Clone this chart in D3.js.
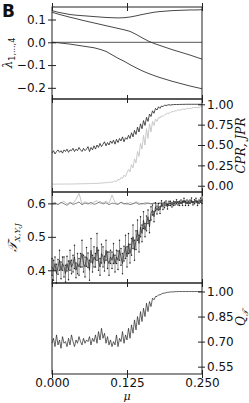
<!DOCTYPE html>
<html>
<head>
<meta charset="utf-8">
<script src="https://cdn.jsdelivr.net/npm/d3@7"></script>
<style>
body { margin: 0; background: #fff; }
svg { display: block; }
text { font-family: "DejaVu Sans", sans-serif; fill: #111; }
</style>
</head>
<body>
<div id="chart"></div>
<script>
"use strict";
// ---- data ----
const lamA = [0.139,0.132,0.127,0.122,0.119,0.117,0.115,0.113,0.111,0.109,0.108,0.107,0.108,0.111,0.116,0.122,0.127,0.132,0.135,0.137,0.139,0.140,0.141,0.142,0.142,0.143];
const lamB = [0.132,0.124,0.117,0.110,0.104,0.097,0.091,0.085,0.079,0.073,0.067,0.061,0.055,0.048,0.035,0.020,0.006,-0.005,-0.014,-0.023,-0.032,-0.040,-0.048,-0.056,-0.065,-0.074];
const lamC = [0.000,-0.002,-0.005,-0.008,-0.012,-0.016,-0.020,-0.024,-0.031,-0.040,-0.055,-0.070,-0.083,-0.098,-0.112,-0.125,-0.136,-0.146,-0.155,-0.163,-0.171,-0.178,-0.185,-0.192,-0.198,-0.204];

const cpr = [0.40,0.43,0.39,0.42,0.44,0.41,0.43,0.40,0.44,0.42,0.45,
  0.41,0.44,0.43,0.46,0.42,0.45,0.43,0.47,0.44,0.42,
  0.46,0.43,0.45,0.48,0.42,0.47,0.44,0.49,0.45,0.50,
  0.47,0.52,0.48,0.51,0.54,0.49,0.53,0.50,0.55,0.52,
  0.56,0.51,0.57,0.53,0.58,0.55,0.60,0.54,0.59,0.57,
  0.62,0.58,0.65,0.60,0.68,0.63,0.72,0.66,0.76,0.70,
  0.80,0.74,0.84,0.79,0.88,0.85,0.92,0.89,0.95,0.93,
  0.97,0.95,0.98,0.97,0.99,0.985,0.99,0.995,0.99,0.995,
  0.996,0.997,0.997,0.998,0.998,0.999,0.999,0.999,1.0,1.0,
  1.0,1.0,1.0,1.0,1.0,1.0,1.0,1.0,1.0,1.0];
const jpr = [0.02,0.02,0.018,0.02,0.022,0.02,0.019,0.021,0.02,0.022,0.02,
  0.021,0.02,0.022,0.021,0.023,0.022,0.024,0.022,0.025,0.023,
  0.025,0.024,0.026,0.025,0.027,0.026,0.028,0.027,0.03,0.028,
  0.032,0.03,0.035,0.033,0.038,0.035,0.042,0.038,0.046,0.042,
  0.05,0.06,0.05,0.08,0.07,0.10,0.09,0.13,0.11,0.16,
  0.20,0.17,0.26,0.22,0.33,0.28,0.42,0.36,0.52,0.45,
  0.62,0.50,0.70,0.58,0.76,0.66,0.79,0.74,0.82,0.79,
  0.84,0.83,0.86,0.85,0.87,0.88,0.89,0.89,0.90,0.91,
  0.91,0.92,0.92,0.93,0.93,0.93,0.94,0.94,0.94,0.95,
  0.95,0.95,0.95,0.96,0.96,0.96,0.96,0.96,0.97,0.97];

const tX = [0.600,0.604,0.597,0.602,0.606,0.598,0.603,0.600,0.612,0.630,0.598,0.605,0.601,0.597,0.604,0.608,0.599,0.602,0.606,0.600,0.625,0.603,0.598,0.604,0.600,0.596,0.603,0.599,0.605,0.601,0.597,0.603,0.600,0.598,0.602,0.600,0.603,0.601,0.604,0.602,0.600,0.603,0.605,0.601,0.604,0.602,0.600,0.603,0.601,0.604,0.602];
const tY = [0.598,0.601,0.596,0.603,0.599,0.594,0.602,0.597,0.600,0.604,0.596,0.601,0.598,0.603,0.597,0.600,0.605,0.598,0.602,0.596,0.601,0.599,0.597,0.603,0.598,0.601,0.596,0.599,0.602,0.597,0.600,0.598,0.601,0.599,0.600,0.598,0.600,0.601,0.599,0.600,0.602,0.601,0.603,0.602,0.604,0.601,0.603,0.605,0.603,0.604,0.602];
const tJ = [0.41,0.40,0.42,0.39,0.41,0.43,0.40,0.42,0.41,0.39,0.42,
  0.40,0.43,0.41,0.42,0.44,0.40,0.42,0.41,0.43,0.45,
  0.42,0.41,0.44,0.43,0.40,0.46,0.42,0.44,0.43,0.47,
  0.43,0.41,0.45,0.44,0.42,0.46,0.43,0.42,0.44,0.43,
  0.45,0.42,0.44,0.43,0.46,0.44,0.42,0.45,0.47,0.44,
  0.48,0.45,0.47,0.50,0.46,0.49,0.52,0.48,0.53,0.51,
  0.55,0.52,0.54,0.56,0.53,0.57,0.58,0.56,0.59,0.58,
  0.59,0.58,0.60,0.59,0.595,0.60,0.59,0.60,0.60,0.595,
  0.60,0.60,0.605,0.60,0.60,0.605,0.60,0.61,0.60,0.605,
  0.60,0.605,0.61,0.60,0.605,0.61,0.60,0.605,0.61,0.605];
const tJErr = [0.025,0.03,0.02,0.028,0.022,0.03,0.025,0.02,0.03,0.025,0.022,
  0.028,0.03,0.02,0.025,0.035,0.022,0.03,0.025,0.02,0.04,
  0.025,0.03,0.028,0.022,0.03,0.035,0.025,0.03,0.02,0.04,
  0.03,0.025,0.028,0.03,0.022,0.03,0.025,0.035,0.02,0.025,
  0.03,0.025,0.02,0.028,0.03,0.025,0.03,0.022,0.035,0.03,
  0.03,0.028,0.025,0.035,0.03,0.028,0.03,0.025,0.03,0.025,
  0.025,0.02,0.022,0.02,0.018,0.02,0.015,0.015,0.012,0.012,
  0.01,0.01,0.008,0.008,0.008,0.007,0.007,0.006,0.006,0.006,
  0.006,0.005,0.006,0.005,0.006,0.005,0.006,0.005,0.006,0.005,
  0.006,0.005,0.006,0.005,0.006,0.005,0.006,0.005,0.006,0.005];

const qT = [0.69,0.72,0.67,0.74,0.68,0.71,0.66,0.73,0.69,0.70,0.67,
  0.72,0.68,0.74,0.70,0.67,0.71,0.69,0.73,0.70,0.68,
  0.72,0.69,0.71,0.70,0.73,0.68,0.72,0.70,0.74,0.69,
  0.76,0.71,0.78,0.72,0.75,0.69,0.73,0.68,0.71,0.67,
  0.70,0.68,0.74,0.67,0.72,0.70,0.76,0.69,0.74,0.71,
  0.78,0.72,0.80,0.75,0.83,0.77,0.85,0.80,0.88,0.82,
  0.90,0.85,0.93,0.88,0.94,0.91,0.96,0.95,0.97,0.97,
  0.98,0.98,0.985,0.99,0.99,0.993,0.995,0.996,0.997,0.998,
  0.998,0.999,0.999,1.0,1.0,1.0,1.0,1.0,1.0,1.0,
  1.0,1.0,1.0,1.0,1.0,1.0,1.0,1.0,1.0,1.0];

// tick values / labels
const muTicks = [0, 0.125, 0.25];
const muTickLabels = ["0.000", "0.125", "0.250"];
const lamTicks = [0.1, 0.0, -0.1, -0.2];
const lamTickLabels = ["0.1", "0.0", "\u22120.1", "\u22120.2"];
const prTicks = [1.0, 0.75, 0.5, 0.25, 0.0];
const prTickLabels = ["1.00", "0.75", "0.50", "0.25", "0.00"];
const tTicks = [0.6, 0.5, 0.4];
const tTickLabels = ["0.6", "0.5", "0.4"];
const qTicks = [1.0, 0.85, 0.70, 0.55];
const qTickLabels = ["1.00", "0.85", "0.70", "0.55"];

// mu grids (sweep parameter, evenly sampled)
const muCoarse = lamA.map((d, i) => i * 0.01);
const muMid = tX.map((d, i) => i * 0.005);
const muFine = cpr.map((d, i) => i * 0.0025);

// ---- layout ----
const W = 249, H = 403;
const L = 52, R = 202;
const svg = d3.select("#chart").append("svg").attr("width", W).attr("height", H);
const x = d3.scaleLinear().domain([0, 0.25]).range([L, R]);

const panels = [
  { top: 7, bottom: 99, domain: [-0.249, 0.155], side: "left", ticks: lamTicks, labels: lamTickLabels },
  { top: 99, bottom: 192, domain: [-0.077, 1.065], side: "right", ticks: prTicks, labels: prTickLabels },
  { top: 192, bottom: 283, domain: [0.362, 0.634], side: "left", ticks: tTicks, labels: tTickLabels },
  { top: 283, bottom: 374, domain: [0.506, 1.051], side: "right", ticks: qTicks, labels: qTickLabels }
];
panels.forEach(p => { p.y = d3.scaleLinear().domain(p.domain).range([p.bottom, p.top]); });

function drawLine(p, xs, ys, color, width) {
  const line = d3.line().x((d, i) => x(xs[i])).y(d => p.y(d));
  svg.append("path").datum(ys)
    .attr("d", line)
    .attr("fill", "none")
    .attr("stroke", color)
    .attr("stroke-width", width)
    .attr("stroke-linejoin", "round");
}

// panel 1: eigenvalues
const p1 = panels[0];
svg.append("line")
  .attr("x1", L).attr("x2", R)
  .attr("y1", p1.y(0)).attr("y2", p1.y(0))
  .attr("stroke", "#444").attr("stroke-width", 0.9);
drawLine(p1, muCoarse, lamA, "#333", 0.9);
drawLine(p1, muCoarse, lamB, "#333", 0.9);
drawLine(p1, muCoarse, lamC, "#333", 0.9);

// panel 2: CPR / JPR
const p2 = panels[1];
drawLine(p2, muFine, jpr, "#c4c4c4", 0.9);
drawLine(p2, muFine, cpr, "#222", 0.8);

// panel 3: T values
const p3 = panels[2];
drawLine(p3, muMid, tX, "#bdbdbd", 0.9);
drawLine(p3, muMid, tY, "#6a6a6a", 0.8);
svg.append("g").selectAll("line").data(tJ).join("line")
  .attr("x1", (d, i) => x(muFine[i])).attr("x2", (d, i) => x(muFine[i]))
  .attr("y1", (d, i) => p3.y(d - tJErr[i])).attr("y2", (d, i) => p3.y(d + tJErr[i]))
  .attr("stroke", "#444").attr("stroke-width", 0.6);
svg.append("g").selectAll("circle").data(tJ.flatMap((d, i) => [[i, d - tJErr[i]], [i, d + tJErr[i]]])).join("circle")
  .attr("cx", d => x(muFine[d[0]])).attr("cy", d => p3.y(d[1]))
  .attr("r", 0.75).attr("fill", "#222");
drawLine(p3, muFine, tJ, "#222", 0.7);

// panel 4: Q_T
const p4 = panels[3];
drawLine(p4, muFine, qT, "#222", 0.7);

// frames and axes
panels.forEach((p, k) => {
  svg.append("rect")
    .attr("x", L).attr("y", p.top)
    .attr("width", R - L).attr("height", p.bottom - p.top)
    .attr("fill", "none").attr("stroke", "#222").attr("stroke-width", 1);

  const ax = p.side === "left" ? d3.axisLeft(p.y) : d3.axisRight(p.y);
  ax.tickValues(p.ticks).tickFormat((d, i) => p.labels[i]).tickSizeInner(p.side === "left" ? 4 : 3).tickSizeOuter(0).tickPadding(2);
  const g = svg.append("g")
    .attr("transform", `translate(${p.side === "left" ? L : R},0)`)
    .call(ax);
  g.select(".domain").remove();
  g.selectAll(".tick line").attr("x1", p.side === "left" ? 4 : -4).attr("stroke", "#222");
  g.selectAll(".tick text").style("font-size", "12px").style("font-family", "'DejaVu Sans', sans-serif").attr("fill", "#111");

  const xa = d3.axisBottom(x).tickValues(muTicks)
    .tickFormat((d, i) => k === panels.length - 1 ? muTickLabels[i] : "")
    .tickSizeInner(4).tickSizeOuter(0).tickPadding(0);
  const gx = svg.append("g").attr("transform", `translate(0,${p.bottom})`).call(xa);
  gx.select(".domain").remove();
  gx.selectAll(".tick line").attr("y1", -4).attr("stroke", "#222");
  gx.selectAll(".tick text").style("font-size", "12px").style("font-family", "'DejaVu Sans', sans-serif").attr("fill", "#111");
});
// top ticks of first panel
const gt = svg.append("g").attr("transform", `translate(0,${p1.top})`)
  .call(d3.axisTop(x).tickValues(muTicks).tickFormat("").tickSizeInner(4).tickSizeOuter(0));
gt.select(".domain").remove();
gt.selectAll(".tick line").attr("y1", 4).attr("stroke", "#222");

// labels
svg.append("text").attr("x", 2).attr("y", 17)
  .style("font-size", "17px").style("font-weight", "bold").text("B");

const lamLab = svg.append("text")
  .attr("transform", `translate(12,${(p1.top + p1.bottom) / 2}) rotate(-90)`)
  .attr("text-anchor", "middle").style("font-size", "12px");
lamLab.append("tspan").style("font-family", "'DejaVu Serif', serif").style("font-style", "italic").text("\u03bb");
lamLab.append("tspan").attr("dy", 3).style("font-size", "8px").text("1,...,4");

const tLab = svg.append("text")
  .attr("transform", `translate(17,${(p3.top + p3.bottom) / 2}) rotate(-90)`)
  .attr("text-anchor", "middle").style("font-size", "13px");
tLab.append("tspan").style("font-family", "'DejaVu Serif', serif").style("font-style", "italic").text("\ud835\udcaf");
tLab.append("tspan").attr("dy", 3).style("font-size", "8px").style("font-family", "'DejaVu Serif', serif").style("font-style", "italic").text("X,Y,J");

svg.append("text")
  .attr("transform", `translate(245,${(p2.top + p2.bottom) / 2}) rotate(-90)`)
  .attr("text-anchor", "middle")
  .style("font-size", "12px").style("font-family", "'DejaVu Serif', serif").style("font-style", "italic")
  .text("CPR, JPR");

const qLab = svg.append("text")
  .attr("transform", `translate(245,318) rotate(-90)`)
  .attr("text-anchor", "middle").style("font-size", "12px")
  .style("font-family", "'DejaVu Serif', serif").style("font-style", "italic");
qLab.append("tspan").text("Q");
qLab.append("tspan").attr("dy", 3).style("font-size", "8px").text("\ud835\udcaf");

svg.append("text").attr("x", x(0.125)).attr("y", 400)
  .attr("text-anchor", "middle")
  .style("font-size", "11px").style("font-family", "'DejaVu Serif', serif").style("font-style", "italic")
  .text("\u03bc");
</script>
</body>
</html>
